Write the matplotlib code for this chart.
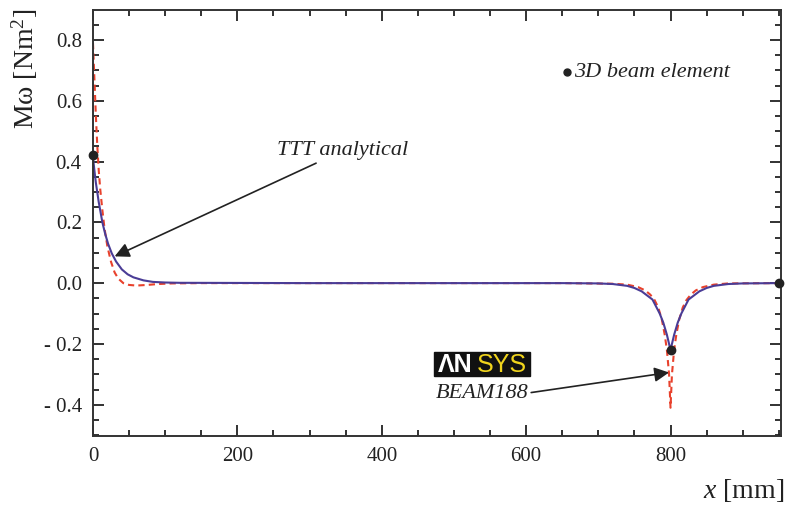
import numpy as np
import matplotlib
matplotlib.use('Agg')
import matplotlib.pyplot as plt
from matplotlib.ticker import MultipleLocator, FixedLocator
from matplotlib.patches import Rectangle

# TTT analytical (solid)
x_ttt = [0, 2, 4, 6, 8, 10, 13, 17, 21, 26, 32, 40, 48, 56, 70, 83, 100, 120,
         300, 500, 650, 700, 720, 740, 750, 760, 770, 775, 780, 785, 790, 795, 800,
         805, 810, 815, 820, 825, 830, 840, 850, 860, 880, 900, 950]
m_ttt = [0.414, 0.37, 0.33, 0.298, 0.266, 0.24, 0.2, 0.161, 0.129, 0.098, 0.071,
         0.045, 0.029, 0.019, 0.009, 0.004, 0.002, 0.001,
         0.0, 0.0, 0.0, -0.001, -0.003, -0.009, -0.016, -0.027, -0.045, -0.054,
         -0.077, -0.1, -0.13, -0.17, -0.22,
         -0.17, -0.13, -0.1, -0.077, -0.054, -0.045, -0.027, -0.016, -0.009,
         -0.003, -0.001, 0.0]

# ANSYS BEAM188 (dashed)
x_ans = [0, 2, 4, 6, 8, 10, 13, 16, 20, 25, 30, 35, 42, 50, 60, 75, 90, 110, 150,
         400, 650, 720, 740, 755, 765, 772, 778, 783, 788, 792, 795, 798, 800,
         802, 805, 808, 812, 817, 822, 828, 835, 845, 860, 880, 950]
m_ans = [0.79, 0.67, 0.55, 0.45, 0.37, 0.31, 0.24, 0.18, 0.12, 0.07, 0.035, 0.015,
         0.0, -0.006, -0.008, -0.006, -0.003, -0.001, 0.0,
         0.0, 0.0, -0.002, -0.005, -0.013, -0.024, -0.038, -0.056, -0.08, -0.12,
         -0.17, -0.22, -0.3, -0.41,
         -0.3, -0.22, -0.17, -0.12, -0.08, -0.056, -0.038, -0.024, -0.013,
         -0.005, -0.001, 0.0]

# 3D beam element points
x_3d = [0, 800, 950]
m_3d = [0.42, -0.22, 0.0]

yticks = [-0.4, -0.2, 0.0, 0.2, 0.4, 0.6, 0.8]
ylabels = ['- 0.4', '- 0.2', '0.0', '0.2', '0.4', '0.6', '0.8']

plt.rcParams['font.family'] = ['Liberation Serif', 'DejaVu Serif']
plt.rcParams['mathtext.fontset'] = 'custom'
plt.rcParams['mathtext.rm'] = 'Liberation Serif'
plt.rcParams['mathtext.it'] = 'Liberation Serif:italic'

fig = plt.figure(figsize=(7.86, 5.07), dpi=100)
ax = fig.add_axes([0.1183, 0.140, 0.8753, 0.840])

ax.plot(x_ans, m_ans, '--', color='#e8412c', lw=1.5, dashes=(3, 2))
ax.plot(x_ttt, m_ttt, '-', color='#4a3c96', lw=1.5)
ax.plot(x_3d, m_3d, 'o', color='#222222', ms=6, clip_on=False, zorder=5)

ax.set_xlim(0, 953)
ax.set_ylim(-0.503, 0.898)
ax.xaxis.set_major_locator(MultipleLocator(200))
ax.xaxis.set_minor_locator(MultipleLocator(50))
ax.yaxis.set_major_locator(FixedLocator(yticks))
ax.yaxis.set_minor_locator(MultipleLocator(0.05))
ax.set_yticklabels(ylabels)
ax.tick_params(which='both', direction='in', top=True, right=True, width=1.3,
               labelsize=15, colors='#222222', pad=8)
ax.tick_params(which='major', length=8)
ax.tick_params(which='minor', length=4)
for s in ax.spines.values():
    s.set_linewidth(1.4)
    s.set_color('#333333')

ax.set_ylabel('M\u03c9 [Nm$^2$]', fontsize=20, color='#222222', va='center')
ax.set_xlabel(r'$x$ [mm]', fontsize=20, color='#222222', ha='right', va='center')
ax.xaxis.set_label_coords(1.005, -0.127)
ax.yaxis.set_label_coords(-0.099, 0.862)

ap = dict(arrowstyle='-|>', color='#222222', lw=1.2, mutation_scale=22,
          shrinkA=0, shrinkB=0)
ax.annotate('TTT analytical', xy=(30, 0.088), xytext=(255, 0.435),
            fontsize=16, style='italic', color='#222222', ha='left', va='center',
            arrowprops=ap)
ax.annotate('', xy=(798, -0.294), xytext=(607, -0.36), arrowprops=ap)

ax.plot([657], [0.694], 'o', color='#222222', ms=5)
ax.text(667, 0.694, '3D beam element', fontsize=16, style='italic',
        color='#222222', va='center')

ax.add_patch(Rectangle((472, -0.306), 134, 0.079, color='#111111', zorder=4))
ax.text(478, -0.268, '\u039bN', family='Liberation Sans', fontweight='bold',
        fontsize=18, color='white', va='center', zorder=5)
ax.text(532, -0.268, 'SYS', family='Liberation Sans', fontsize=18,
        color='#f0d41c', va='center', zorder=5)
ax.text(475, -0.363, 'BEAM188', fontsize=16, style='italic', color='#222222',
        va='center')

fig.savefig('out.png', dpi=100)
